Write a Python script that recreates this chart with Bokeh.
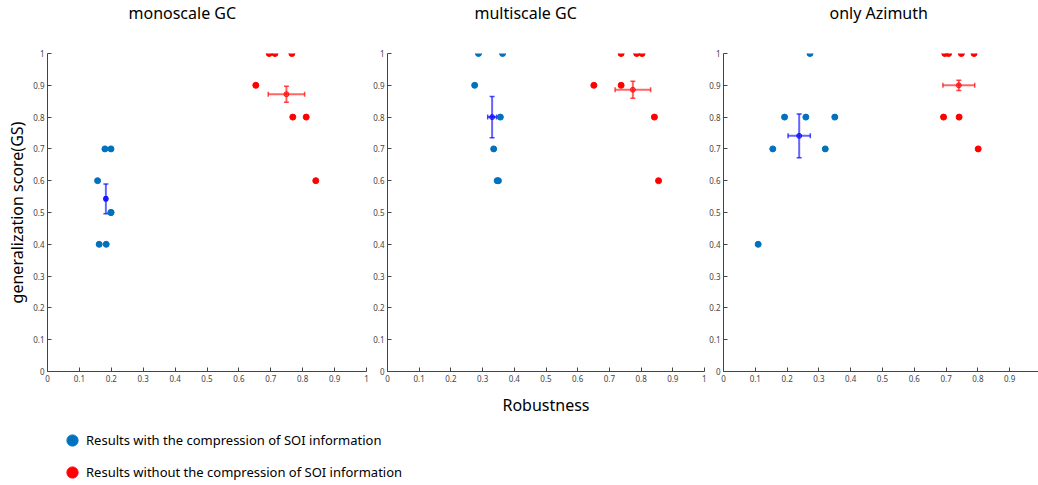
from bokeh.plotting import figure
from bokeh.layouts import row, column
from bokeh.models import (Range1d, FixedTicker, Whisker, TeeHead, ColumnDataSource,
                          Legend, LegendItem)
from bokeh.embed import file_html
from bokeh.resources import INLINE

# ---------------- data ----------------
titles = ["monoscale GC", "multiscale GC", "only Azimuth"]
x_label = "Robustness"
y_label = "generalization score(GS)"
legend_labels = ["Results with the compression of SOI information",
                 "Results without the compression of SOI information"]
tick_values = [0, 0.1, 0.2, 0.3, 0.4, 0.5, 0.6, 0.7, 0.8, 0.9, 1]
tick_labels = ["0", "0.1", "0.2", "0.3", "0.4", "0.5", "0.6", "0.7", "0.8", "0.9", "1"]

# monoscale GC
mono_blue_x = [0.157, 0.180, 0.199, 0.162, 0.184, 0.199, 0.199]
mono_blue_y = [0.6, 0.7, 0.7, 0.4, 0.4, 0.5, 0.5]
mono_red_x = [0.695, 0.713, 0.766, 0.653, 0.769, 0.811, 0.841]
mono_red_y = [1.0, 1.0, 1.0, 0.9, 0.8, 0.8, 0.6]
mono_mean_blue = [0.183, 0.543]
mono_err_blue = [0.004, 0.047]
mono_mean_red = [0.749, 0.872]
mono_err_red = [0.057, 0.025]

# multiscale GC
multi_blue_x = [0.287, 0.363, 0.275, 0.356, 0.335, 0.346, 0.350]
multi_blue_y = [1.0, 1.0, 0.9, 0.8, 0.7, 0.6, 0.6]
multi_red_x = [0.651, 0.737, 0.737, 0.786, 0.803, 0.842, 0.855]
multi_red_y = [0.9, 1.0, 0.9, 1.0, 1.0, 0.8, 0.6]
multi_mean_blue = [0.330, 0.800]
multi_err_blue = [0.014, 0.065]
multi_mean_red = [0.774, 0.886]
multi_err_red = [0.056, 0.027]

# only Azimuth
azi_blue_x = [0.272, 0.192, 0.259, 0.350, 0.155, 0.320, 0.109]
azi_blue_y = [1.0, 0.8, 0.8, 0.8, 0.7, 0.7, 0.4]
azi_red_x = [0.696, 0.708, 0.748, 0.788, 0.692, 0.741, 0.801]
azi_red_y = [1.0, 1.0, 1.0, 1.0, 0.8, 0.8, 0.7]
azi_mean_blue = [0.238, 0.741]
azi_err_blue = [0.035, 0.069]
azi_mean_red = [0.740, 0.900]
azi_err_red = [0.050, 0.016]

# ---------------- style ----------------
FONT = "Noto Sans"
DOT_BLUE = "#0072BD"
DOT_RED = "#FF0000"
MEAN_BLUE = "#0000FF"
MEAN_RED = "#FF0000"
AXIS_COLOR = "#444444"
TOP_H = 420
BORDER_TOP = 53
FRAME_H = 318


def add_errorbars(p, mean, err, color):
    mx, my = mean
    ex, ey = err
    src_v = ColumnDataSource(dict(base=[mx], upper=[my + ey], lower=[my - ey]))
    src_h = ColumnDataSource(dict(base=[my], upper=[mx + ex], lower=[mx - ex]))
    for src, dim in ((src_v, "height"), (src_h, "width")):
        w = Whisker(source=src, base="base", upper="upper", lower="lower",
                    dimension=dim, line_color=color, line_alpha=0.6, line_width=2,
                    upper_head=TeeHead(size=5, line_color=color, line_alpha=0.7, line_width=1.5),
                    lower_head=TeeHead(size=5, line_color=color, line_alpha=0.7, line_width=1.5),
                    level="underlay")
        p.add_layout(w)
    p.scatter([mx], [my], size=5, marker="circle", line_color=color, line_alpha=0.8,
              fill_color=color, fill_alpha=0.5)


def make_panel(title, title_offset, width, left, right, xmax, bx, by, rx, ry,
               mb, eb, mr, er, ylab=None, xlab=None):
    p = figure(width=width, height=TOP_H, x_range=Range1d(0, xmax), y_range=Range1d(0, 1),
               output_backend="svg", toolbar_location=None,
               min_border_left=left, min_border_right=right,
               min_border_top=BORDER_TOP, min_border_bottom=TOP_H - BORDER_TOP - FRAME_H)
    p.outline_line_color = None
    p.grid.visible = False
    p.background_fill_color = "white"
    p.border_fill_color = "white"

    # title: an empty second line lifts the text towards the top of the border
    p.title.text = title + "\n"
    p.title.align = "left"
    p.title.offset = title_offset
    p.title.standoff = 0
    p.title.vertical_align = "bottom"
    p.title.text_line_height = 1.33
    p.title.text_font = FONT
    p.title.text_font_size = "16px"
    p.title.text_font_style = "normal"
    p.title.text_color = "#000000"

    for ax in (p.xaxis[0], p.yaxis[0]):
        ax.ticker = FixedTicker(ticks=tick_values)
        ax.major_label_overrides = {v: s for v, s in zip(tick_values, tick_labels)}
        ax.axis_line_color = AXIS_COLOR
        ax.axis_line_width = 1
        ax.major_tick_line_color = AXIS_COLOR
        ax.major_tick_in = 4
        ax.major_tick_out = 0
        ax.minor_tick_line_color = None
        ax.major_label_text_font = FONT
        ax.major_label_text_font_size = "8px"
        ax.major_label_text_color = "#444444"
        ax.major_label_standoff = 3
        ax.axis_label_text_font = FONT
        ax.axis_label_text_font_size = "16px"
        ax.axis_label_text_font_style = "normal"
        ax.axis_label_text_color = "#000000"
    if ylab:
        p.yaxis.axis_label = ylab
        p.yaxis.axis_label_standoff = 2
    if xlab:
        p.xaxis.axis_label = xlab
        p.xaxis.axis_label_standoff = 9

    p.scatter(bx, by, size=6, marker="circle", color=DOT_BLUE)
    p.scatter(rx, ry, size=6, marker="circle", color=DOT_RED)
    add_errorbars(p, mb, eb, MEAN_BLUE)
    add_errorbars(p, mr, er, MEAN_RED)
    return p


p1 = make_panel(titles[0], 81, 370, 47, 4, 1.0, mono_blue_x, mono_blue_y, mono_red_x, mono_red_y,
                mono_mean_blue, mono_err_blue, mono_mean_red, mono_err_red, ylab=y_label)
p2 = make_panel(titles[1], 87, 336, 16, 2, 1.0, multi_blue_x, multi_blue_y, multi_red_x, multi_red_y,
                multi_mean_blue, multi_err_blue, multi_mean_red, multi_err_red, xlab=x_label)
p3 = make_panel(titles[2], 106, 332, 15, 0, 317 / 320, azi_blue_x, azi_blue_y, azi_red_x, azi_red_y,
                azi_mean_blue, azi_err_blue, azi_mean_red, azi_err_red)

# legend strip (legend renderers are hidden; only their legend glyphs are drawn)
LEG_H = 65
lp = figure(width=1038, height=LEG_H, x_range=Range1d(0, 1), y_range=Range1d(0, 1),
            x_axis_type=None, y_axis_type=None, output_backend="svg",
            toolbar_location=None, min_border=0)
lp.outline_line_color = None
lp.grid.visible = False
rb = lp.scatter(x=mono_blue_x[:1], y=mono_blue_y[:1], marker="circle", color=DOT_BLUE, visible=False)
rr = lp.scatter(x=mono_red_x[:1], y=mono_red_y[:1], marker="circle", color=DOT_RED, visible=False)
leg = Legend(items=[LegendItem(label=legend_labels[0], renderers=[rb]),
                    LegendItem(label=legend_labels[1], renderers=[rr])],
             location=(58, -3), glyph_width=28, glyph_height=32, label_height=32,
             spacing=0, padding=0, margin=0, label_standoff=0,
             border_line_color=None, background_fill_alpha=0,
             label_text_font=FONT, label_text_font_size="13px", label_text_color="#000000")
lp.add_layout(leg)

layout = column(row(p1, p2, p3), lp)
open("out.html", "w").write(file_html(layout, INLINE))
